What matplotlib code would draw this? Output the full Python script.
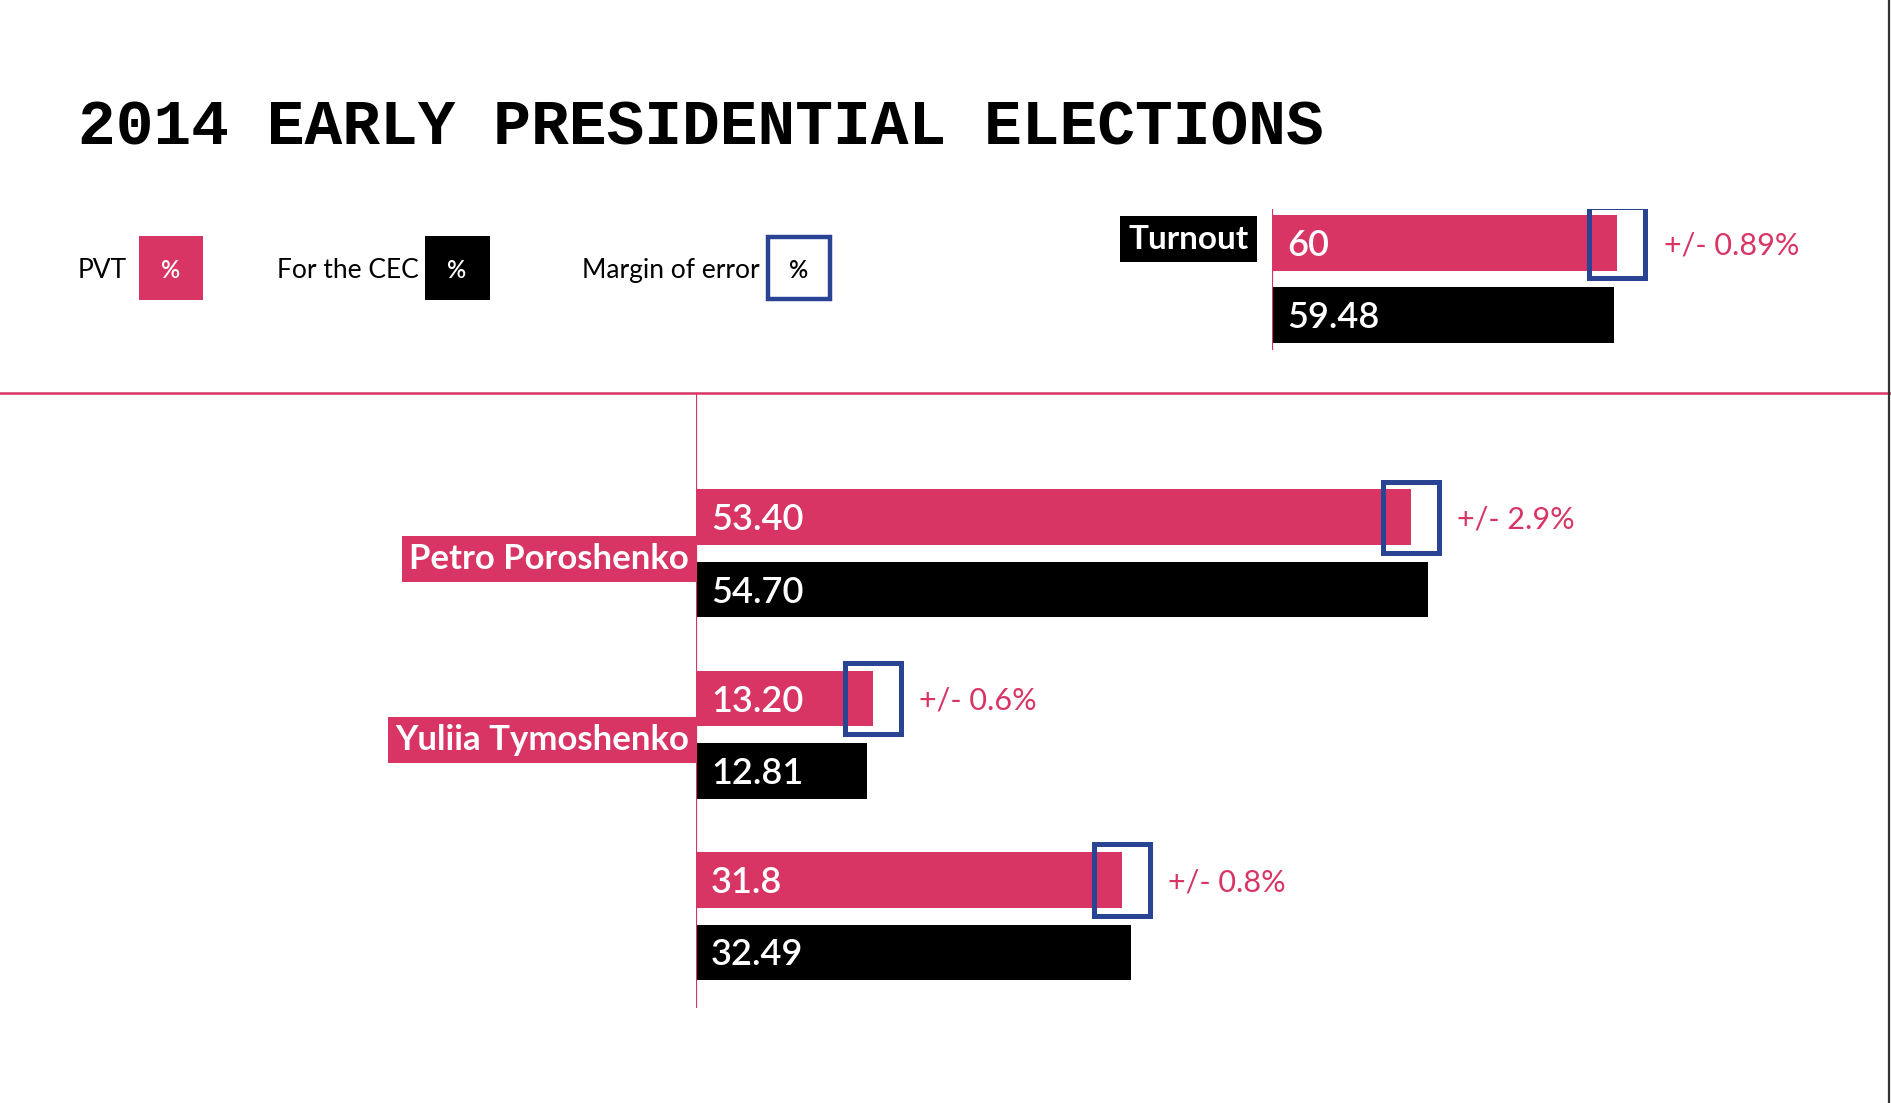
import numpy as np
import matplotlib
matplotlib.use('Agg')
import matplotlib.pyplot as plt
from matplotlib.patches import Rectangle
from matplotlib.lines import Line2D

# ──────────────────────────────────────────────
# DATA
# ──────────────────────────────────────────────
candidates = ['Petro Poroshenko', 'Yuliia Tymoshenko', '']
pvt = [53.40, 13.20, 31.8]
cec = [54.70, 12.81, 32.49]
moe = [2.9, 0.6, 0.8]
pvt_labels = ['53.40', '13.20', '31.8']
cec_labels = ['54.70', '12.81', '32.49']

turnout_pvt = 60
turnout_cec = 59.48
turnout_moe = 0.89
turnout_labels = ['60', '59.48']

# ──────────────────────────────────────────────
# STYLE
# ──────────────────────────────────────────────
PINK = '#D83565'
BLUE = '#2A4494'
BLACK = '#000000'
SANS = 'Lato'

# layout measured on a 1568 x 915 grid
W, H = 1568, 915
def fx(x): return x / W
def fy(y): return 1 - y / H

PITCH = 150.5
BAR_H = 46 / PITCH
OFF = 30 / PITCH
BOX_H = 59 / PITCH
BOX_PX = 56          # outlined box width in output pixels

fig = plt.figure(figsize=(18.91, 11.03), dpi=100)
fig.patch.set_facecolor('white')


def draw_group(ax, y, p, c, m, plab, clab, px_per_unit):
    ax.barh(y - OFF, p, height=BAR_H, color=PINK)
    ax.barh(y + OFF, c, height=BAR_H, color=BLACK)
    bw = BOX_PX / px_per_unit
    for yy, pp, mm, lab in zip(np.atleast_1d(y), np.atleast_1d(p),
                               np.atleast_1d(m), plab):
        ax.add_patch(Rectangle((pp - bw / 2, yy - OFF - BOX_H / 2), bw, BOX_H,
                               fill=False, ec=BLUE, lw=3.6, zorder=5))
        ax.annotate(f'+/- {mm}%', (pp + bw / 2, yy - OFF), xytext=(13, -8),
                    textcoords='offset points', va='baseline', ha='left',
                    color=PINK, fontsize=22, family=SANS, weight='normal')
        ax.annotate(lab, (0, yy - OFF), xytext=(11, -9.4),
                    textcoords='offset points', va='baseline', ha='left',
                    color='white', fontsize=26, family=SANS, weight='semibold')
    for yy, lab in zip(np.atleast_1d(y), clab):
        ax.annotate(lab, (0, yy + OFF), xytext=(11, -9.4),
                    textcoords='offset points', va='baseline', ha='left',
                    color='white', fontsize=26, family=SANS, weight='semibold')


# ── Candidates ──
ax = fig.add_axes([fx(577), fy(836), fx(1568) - fx(577), fy(326) - fy(836)])
ax.set_xlim(0, (1568 - 577) / 11.1)
ax.set_ylim(2.505, -0.884)
ax.axis('off')
ax.axvline(0, color=PINK, lw=1.6)
y = np.arange(len(candidates))
px_main = (fx(1568) - fx(577)) * 1891 / ax.get_xlim()[1]
draw_group(ax, y, pvt, cec, moe, pvt_labels, cec_labels, px_main)

for yy, name in zip(y, candidates):
    if not name:
        continue
    ax.annotate(name, (0, yy + 0.03), xytext=(-5, 0), textcoords='offset points',
                ha='right', va='center', color='white', fontsize=25,
                family=SANS, weight='bold', annotation_clip=False,
                bbox=dict(boxstyle='square,pad=0.2', fc=PINK, ec='none'))

# ── Turnout ──
ax_t = fig.add_axes([fx(1055), fy(290), fx(1568) - fx(1055), fy(173) - fy(290)])
ax_t.set_xlim(0, 513 / 4.77)
ax_t.set_ylim(0.389, -0.389)
ax_t.axis('off')
ax_t.axvline(0, color=PINK, lw=1.6)
px_t = (fx(1568) - fx(1055)) * 1891 / ax_t.get_xlim()[1]
draw_group(ax_t, np.array([0.0]), [turnout_pvt], [turnout_cec], [turnout_moe],
           turnout_labels[:1], turnout_labels[1:], px_t)
ax_t.annotate('Turnout', (0, -OFF - 0.02), xytext=(-17, 0), textcoords='offset points',
              ha='right', va='center', color='white', fontsize=24,
              family=SANS, weight='bold', annotation_clip=False,
              bbox=dict(boxstyle='square,pad=0.25', fc=BLACK, ec='none'))

# ── Title ──
fig.text(fx(65), fy(120), '2014 EARLY PRESIDENTIAL ELECTIONS', ha='left',
         va='baseline', fontsize=45.3, family='Liberation Mono', weight='bold',
         color=BLACK)

# ── Legend ──
legend_items = [('PVT', 115, 168, 'pink', 10),
                ('For the CEC', 352, 406, 'black', 5),
                ('Margin of error', 637, 688, 'outline', 7)]
for label, x0, x1, kind, gap in legend_items:
    fig.text(fx(x0 - gap), fy(231), label, ha='right', va='baseline', fontsize=19,
             family=SANS, color=BLACK)
    if kind == 'outline':
        fig.add_artist(Rectangle((fx(x0), fy(248)), fx(x1) - fx(x0), fy(197) - fy(248),
                                 transform=fig.transFigure, fill=False, ec=BLUE, lw=3.2))
        tc = BLACK
    else:
        fig.add_artist(Rectangle((fx(x0), fy(249)), fx(x1) - fx(x0), fy(196) - fy(249),
                                 transform=fig.transFigure,
                                 fc=PINK if kind == 'pink' else BLACK, ec='none'))
        tc = 'white'
    fig.text(fx((x0 + x1) / 2), fy(231), '%', ha='center', va='baseline',
             fontsize=17, family=SANS, weight='semibold', color=tc)

# ── Frame lines ──
fig.add_artist(Line2D([0, 1], [fy(326), fy(326)], transform=fig.transFigure,
                      color=PINK, lw=1.8))
fig.add_artist(Line2D([0.9988, 0.9988], [0, 1], transform=fig.transFigure,
                      color='#333333', lw=1.6))

plt.savefig('out.png', dpi=100, facecolor='white')
